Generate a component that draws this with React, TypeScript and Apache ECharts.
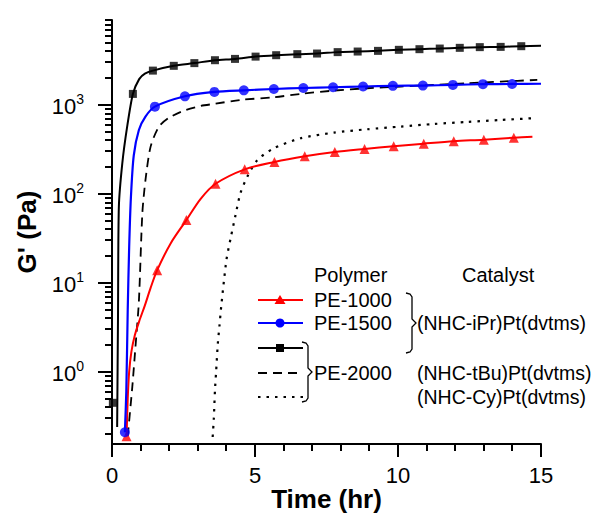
import React, { useEffect, useRef } from "react";
import * as echarts from "echarts";

// ---------- data (time in hr, G' in Pa) ----------
const pe1000Curve: number[][] = [
  [0.51, 0.19], [0.55, 0.5], [0.6, 1.0], [0.68, 1.7], [0.8, 2.6], [0.95, 3.7], [1.15, 5.6],
  [1.35, 8.8], [1.58, 13.9], [2.05, 27.8], [2.6, 50.8], [3.1, 88], [3.62, 130], [4.64, 189],
  [5.68, 229], [6.74, 265], [7.79, 296], [8.83, 320], [9.85, 343], [10.9, 367],
  [11.95, 391], [13.0, 407], [14.05, 429], [14.7, 440],
];
const pe1000Markers: number[][] = [
  [0.51, 0.19], [1.58, 13.9], [2.6, 50.8], [3.62, 130], [4.64, 189], [5.68, 229],
  [6.74, 265], [7.79, 296], [8.83, 320], [9.85, 343], [10.9, 367], [11.95, 391],
  [13.0, 407], [14.05, 429],
];
const pe1500Curve: number[][] = [
  [0.45, 0.21], [0.5, 0.6], [0.55, 5], [0.6, 25], [0.66, 90], [0.76, 270], [0.94, 523],
  [1.17, 740], [1.5, 957], [2.55, 1250], [3.58, 1400], [4.61, 1460], [5.66, 1510],
  [6.69, 1550], [7.73, 1580], [8.78, 1610], [9.82, 1640], [10.87, 1650], [11.92, 1680],
  [12.97, 1710], [13.99, 1720], [15.0, 1730],
];
const pe1500Markers: number[][] = [
  [0.45, 0.21], [1.5, 957], [2.55, 1250], [3.58, 1400], [4.61, 1460], [5.66, 1510],
  [6.69, 1550], [7.73, 1580], [8.78, 1610], [9.82, 1640], [10.87, 1650], [11.92, 1680],
  [12.97, 1710], [13.99, 1720],
];
const pe2000iPrCurve: number[][] = [
  [0.18, 0.24], [0.21, 4.2], [0.24, 72], [0.36, 221], [0.53, 570], [0.73, 1330],
  [0.95, 1950], [1.15, 2250], [1.43, 2430], [2.16, 2750], [2.88, 2950], [3.6, 3180],
  [4.3, 3290], [5.02, 3490], [5.74, 3620], [6.48, 3720], [7.17, 3780], [7.89, 3920],
  [8.59, 3980], [9.3, 4050], [10.03, 4160], [10.75, 4230], [11.46, 4300], [12.16, 4380],
  [12.86, 4460], [13.59, 4490], [14.31, 4570], [15.0, 4620],
];
const pe2000iPrMarkers: number[][] = [
  [0.03, 0.45], [0.73, 1330], [1.43, 2430], [2.16, 2750], [2.88, 2950], [3.6, 3180],
  [4.3, 3290], [5.02, 3490], [5.74, 3620], [6.48, 3720], [7.17, 3780], [7.89, 3920],
  [8.59, 3980], [9.3, 4050], [10.03, 4160], [10.75, 4230], [11.46, 4300], [12.16, 4380],
  [12.86, 4460], [13.59, 4490], [14.31, 4570],
];
const pe2000tBuCurve: number[][] = [
  [0.55, 0.19], [0.71, 0.68], [0.82, 1.91], [0.94, 6.2], [1.06, 60], [1.17, 143],
  [1.35, 340], [1.64, 570], [2.0, 720], [2.55, 870], [3.1, 975], [3.6, 1030],
  [4.49, 1138], [5.66, 1220], [6.59, 1330], [7.76, 1450], [8.92, 1540], [10.09, 1610],
  [11.25, 1680], [12.42, 1750], [13.6, 1830], [14.87, 1910],
];
const pe2000CyCurve: number[][] = [
  [3.52, 0.186], [3.56, 0.3], [3.6, 0.62], [3.64, 1.0], [3.7, 2.08], [3.76, 3.35],
  [3.82, 5.5], [4.0, 18], [4.15, 32], [4.32, 58], [4.49, 102], [4.73, 156], [5.08, 240],
  [5.66, 326], [6.59, 422], [7.76, 488], [8.92, 533], [10.09, 571], [11.25, 611],
  [12.42, 644], [13.6, 678], [14.69, 708],
];

// ---------- axes ----------
const X_MIN = 0;
const X_MAX = 15;
const X_INTERVAL = 5;
const Y_MIN = 0.155;
const Y_MAX = 9000;
const xMajorTicks = [0, 5, 10, 15];
const xMinorTicks = [1, 2, 3, 4, 6, 7, 8, 9, 11, 12, 13, 14];
const yDecadeExponents = [0, 1, 2, 3];
const yMajorTicks = [1, 10, 100, 1000];
const yMinorMantissas = [2, 3, 4, 5, 6, 7, 8, 9];

const FONT = '"Liberation Sans", Arial, Helvetica, sans-serif';

const legendTitles = ["Polymer", "Catalyst"];
const legendPolymers = ["PE-1000", "PE-1500", "PE-2000"];
const legendCatalysts = ["(NHC-iPr)Pt(dvtms)", "(NHC-tBu)Pt(dvtms)", "(NHC-Cy)Pt(dvtms)"];

function yMinorTicks(): number[] {
  const out: number[] = [];
  for (const base of [0.1, ...yMajorTicks]) {
    for (const k of yMinorMantissas) {
      const v = k * base;
      if (v >= Y_MIN && v <= Y_MAX * 1.0001) out.push(v);
    }
  }
  return out;
}

// tick marks drawn as thin filled rects through the cartesian coordinate system
function tickSeries(values: number[][], dir: "x" | "y", len: number) {
  return {
    type: "custom",
    coordinateSystem: "cartesian2d",
    xAxisIndex: 0,
    yAxisIndex: 0,
    clip: false,
    silent: true,
    z: 10,
    data: values,
    renderItem: (_params: any, api: any) => {
      const p = api.coord([api.value(0), api.value(1)]);
      const x = Math.round(p[0]);
      const y = Math.round(p[1]);
      const shape =
        dir === "x"
          ? { x: x - 1, y: y, width: 2, height: len }
          : { x: x - len, y: y - 1, width: len, height: 2 };
      return { type: "rect", shape, style: { fill: "#000" } };
    },
  };
}

export default function App() {
  const ref = useRef<HTMLDivElement>(null);

  useEffect(() => {
    if (!ref.current) return;
    const chart = echarts.init(ref.current, undefined, { renderer: "svg" });
    const lgMin = Math.log10(Y_MIN);
    const lgMax = Math.log10(Y_MAX);

    const textEl = (x: number, y: number, text: string, size = 20) => ({
      type: "text",
      x,
      y,
      silent: true,
      style: {
        text,
        font: `${size}px ${FONT}`,
        fill: "#000",
        textVerticalAlign: "middle",
        verticalAlign: "middle",
      },
    });

    const braceA = [
      [406, 293], [410, 294], [412, 297], [412, 319], [416, 323], [412, 327], [412, 349], [410, 352], [406, 353],
    ];
    const braceB = [
      [302, 342], [306, 343], [308, 346], [308, 368], [312, 372], [308, 376], [308, 398], [306, 401], [302, 402],
    ];

    const legendEls: any[] = [
      textEl(314, 275, legendTitles[0]),
      textEl(462, 275, legendTitles[1]),
      { type: "line", silent: true, shape: { x1: 258, y1: 300, x2: 303, y2: 300 }, style: { stroke: "#ff0000", lineWidth: 2 } },
      { type: "polygon", silent: true, shape: { points: [[280, 295], [285.5, 304], [274.5, 304]] }, style: { fill: "#ff0000" } },
      { type: "line", silent: true, shape: { x1: 258, y1: 323, x2: 303, y2: 323 }, style: { stroke: "#0000ff", lineWidth: 2 } },
      { type: "circle", silent: true, shape: { cx: 280, cy: 323, r: 4.5 }, style: { fill: "#0000ff" } },
      { type: "line", silent: true, shape: { x1: 258, y1: 348, x2: 303, y2: 348 }, style: { stroke: "#000", lineWidth: 2 } },
      { type: "rect", silent: true, shape: { x: 276, y: 344, width: 8, height: 8 }, style: { fill: "#000" } },
      { type: "line", silent: true, shape: { x1: 258, y1: 373, x2: 303, y2: 373 }, style: { stroke: "#000", lineWidth: 1.8, lineDash: [9, 6] } },
      { type: "line", silent: true, shape: { x1: 258, y1: 397, x2: 303, y2: 397 }, style: { stroke: "#000", lineWidth: 2.2, lineDash: [2.5, 6] } },
      textEl(314, 300, legendPolymers[0]),
      textEl(314, 323, legendPolymers[1]),
      textEl(314, 373, legendPolymers[2]),
      { type: "polyline", silent: true, shape: { points: braceA }, style: { stroke: "#000", lineWidth: 1.3, fill: null } },
      { type: "polyline", silent: true, shape: { points: braceB }, style: { stroke: "#000", lineWidth: 1.3, fill: null } },
      textEl(417, 323, legendCatalysts[0], 19.5),
      textEl(417, 373, legendCatalysts[1], 19.5),
      textEl(417, 397, legendCatalysts[2], 19.5),
    ];

    const axisLineStyle = { color: "#000", width: 2 };

    const option: any = {
      animation: false,
      backgroundColor: "#fff",
      grid: { left: 112, right: 52, top: 20, bottom: 73, containLabel: false, outerBoundsMode: "none" },
      xAxis: {
        type: "value",
        min: X_MIN,
        max: X_MAX,
        interval: X_INTERVAL,
        name: "Time (hr)",
        nameLocation: "middle",
        nameGap: 42,
        nameMoveOverlap: false,
        nameTextStyle: { fontSize: 26, fontWeight: "bold", color: "#000", fontFamily: FONT },
        axisLine: { show: true, onZero: false, lineStyle: axisLineStyle },
        axisTick: { show: false },
        minorTick: { show: false },
        axisLabel: { fontSize: 22, color: "#000", margin: 20, fontFamily: FONT },
        splitLine: { show: false },
        minorSplitLine: { show: false },
      },
      yAxis: [
        {
          type: "log",
          logBase: 10,
          min: Y_MIN,
          max: Y_MAX,
          name: "G' (Pa)",
          nameLocation: "middle",
          nameGap: 72,
          nameMoveOverlap: false,
          nameTextStyle: { fontSize: 26, fontWeight: "bold", color: "#000", fontFamily: FONT },
          axisLine: { show: true, onZero: false, lineStyle: axisLineStyle },
          axisTick: { show: false },
          minorTick: { show: false },
          axisLabel: { show: false },
          splitLine: { show: false },
          minorSplitLine: { show: false },
        },
        {
          type: "value",
          min: lgMin,
          max: lgMax,
          position: "left",
          axisLine: { show: false, onZero: false },
          axisTick: { show: false },
          axisLabel: {
            show: true,
            customValues: yDecadeExponents,
            margin: 28,
            formatter: (v: number) => `{b|10}{s|${Math.round(v)}}`,
            rich: {
              b: { fontSize: 22, color: "#000", fontFamily: FONT, lineHeight: 26, verticalAlign: "bottom" },
              s: { fontSize: 14, color: "#000", fontFamily: FONT, lineHeight: 14, verticalAlign: "top" },
            },
          },
          splitLine: { show: false },
        },
      ],
      series: [
        tickSeries(xMajorTicks.map((v) => [v, Y_MIN]), "x", 13),
        tickSeries(xMinorTicks.map((v) => [v, Y_MIN]), "x", 7),
        tickSeries(yMajorTicks.map((v) => [X_MIN, v]), "y", 14),
        tickSeries(yMinorTicks().map((v) => [X_MIN, v]), "y", 7),
        {
          type: "line",
          name: "PE-2000 (NHC-Cy)Pt(dvtms)",
          data: pe2000CyCurve,
          yAxisIndex: 0,
          showSymbol: false,
          symbol: "none",
          smooth: 0.25,
          lineStyle: { color: "#000", width: 2.2, type: [2.5, 6] },
        },
        {
          type: "line",
          name: "PE-2000 (NHC-tBu)Pt(dvtms)",
          data: pe2000tBuCurve,
          yAxisIndex: 0,
          showSymbol: false,
          symbol: "none",
          smooth: 0.25,
          lineStyle: { color: "#000", width: 1.8, type: [9, 6] },
        },
        {
          type: "line",
          name: "PE-1000 curve",
          data: pe1000Curve,
          yAxisIndex: 0,
          showSymbol: false,
          symbol: "none",
          smooth: 0.3,
          lineStyle: { color: "#ff0000", width: 2 },
        },
        {
          type: "line",
          name: "PE-1500 curve",
          data: pe1500Curve,
          yAxisIndex: 0,
          showSymbol: false,
          symbol: "none",
          smooth: 0.25,
          lineStyle: { color: "#0000ff", width: 2.2 },
        },
        {
          type: "line",
          name: "PE-2000 curve",
          data: pe2000iPrCurve,
          yAxisIndex: 0,
          showSymbol: false,
          symbol: "none",
          smooth: 0.25,
          lineStyle: { color: "#000", width: 2 },
        },
        {
          type: "scatter",
          name: "PE-1000",
          data: pe1000Markers,
          yAxisIndex: 0,
          symbol: "triangle",
          symbolSize: 10,
          itemStyle: { color: "#ff0000" },
          z: 5,
        },
        {
          type: "scatter",
          name: "PE-1500",
          data: pe1500Markers,
          yAxisIndex: 0,
          symbol: "circle",
          symbolSize: 10,
          itemStyle: { color: "#0000ff" },
          z: 5,
        },
        {
          type: "scatter",
          name: "PE-2000",
          data: pe2000iPrMarkers,
          yAxisIndex: 0,
          symbol: "rect",
          symbolSize: 8,
          itemStyle: { color: "#000" },
          z: 5,
        },
      ],
      graphic: legendEls,
    };

    chart.setOption(option);
    return () => chart.dispose();
  }, []);

  return (
    <div
      ref={ref}
      style={{ position: "fixed", left: 0, top: 0, width: 593, height: 517, background: "#fff" }}
    />
  );
}
